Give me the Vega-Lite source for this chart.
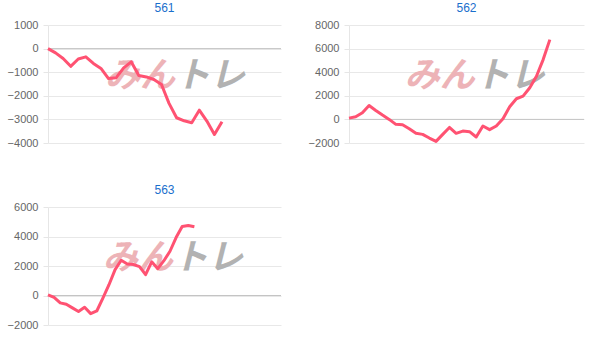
{
  "$schema": "https://vega.github.io/schema/vega-lite/v6.json",
  "padding": {"left": 7, "top": 2, "right": 5, "bottom": 5},
  "background": "white",
  "columns": 2,
  "spacing": {"column": 26, "row": 36},
  "config": {
    "view": {"stroke": null},
    "font": "Liberation Sans",
    "title": {"font": "Liberation Sans", "fontSize": 12, "fontWeight": "normal", "color": "#1a6fcc", "offset": 4},
    "axisY": {
      "title": null,
      "grid": true,
      "tickCount": 5,
      "format": "d",
      "labelFont": "Liberation Sans",
      "labelFontSize": 11,
      "labelColor": "#666666",
      "labelPadding": 5,
      "tickSize": 5,
      "tickColor": "#e6e6e6",
      "domainColor": "#e6e6e6",
      "gridColor": "#e8e8e8"
    },
    "text": {"font": "Noto Sans CJK JP"}
  },
  "concat": [
    {
      "width": 233, "height": 118,
      "title": "561",
      "layer": [
        {
          "data": {"values": [{"logo": "みん"}]},
          "mark": {"type": "text", "align": "right", "baseline": "middle", "fontSize": 35, "fontStyle": "italic", "fontWeight": "bold", "color": "#edb3b7"},
          "encoding": {
            "x": {"datum": 16.8, "type": "quantitative", "scale": {"domain": [0, 30.8], "nice": false, "zero": false}, "axis": null},
            "y": {"datum": -1140, "type": "quantitative", "scale": {"domain": [-4000, 1000], "nice": false}},
            "text": {"field": "logo"}
          }
        },
        {
          "data": {"values": [{"logo": "トレ"}]},
          "mark": {"type": "text", "align": "left", "baseline": "middle", "fontSize": 35, "fontStyle": "italic", "fontWeight": "bold", "color": "#b2b2b2"},
          "encoding": {
            "x": {"datum": 16.8, "type": "quantitative"},
            "y": {"datum": -1140, "type": "quantitative"},
            "text": {"field": "logo"}
          }
        },
        {
          "data": {"values": [{"v": 0}]},
          "mark": {"type": "rule", "color": "#c4c4c4", "strokeWidth": 1},
          "encoding": {"y": {"field": "v", "type": "quantitative"}}
        },
        {
          "data": {"values": [
            {"x": 0, "y": 0}, {"x": 1, "y": -180}, {"x": 2, "y": -420}, {"x": 3, "y": -750},
            {"x": 4, "y": -440}, {"x": 5, "y": -350}, {"x": 6, "y": -630}, {"x": 7, "y": -840},
            {"x": 8, "y": -1270}, {"x": 9, "y": -1240}, {"x": 10, "y": -820}, {"x": 11, "y": -560},
            {"x": 12, "y": -1140}, {"x": 13, "y": -1200}, {"x": 14, "y": -1310}, {"x": 15, "y": -1520},
            {"x": 16, "y": -2320}, {"x": 17, "y": -2930}, {"x": 18, "y": -3060}, {"x": 19, "y": -3140},
            {"x": 20, "y": -2610}, {"x": 21, "y": -3070}, {"x": 22, "y": -3640}, {"x": 23, "y": -3100}
          ]},
          "mark": {"type": "line", "color": "#ff5272", "strokeWidth": 3, "strokeJoin": "round"},
          "encoding": {
            "x": {"field": "x", "type": "quantitative"},
            "y": {"field": "y", "type": "quantitative"}
          }
        }
      ]
    },
    {
      "width": 235, "height": 118,
      "title": "562",
      "layer": [
        {
          "data": {"values": [{"logo": "みん"}]},
          "mark": {"type": "text", "align": "right", "baseline": "middle", "fontSize": 35, "fontStyle": "italic", "fontWeight": "bold", "color": "#edb3b7"},
          "encoding": {
            "x": {"datum": 18.8, "type": "quantitative", "scale": {"domain": [0, 35.1], "nice": false, "zero": false}, "axis": null},
            "y": {"datum": 3720, "type": "quantitative", "scale": {"domain": [-2000, 8000], "nice": false}},
            "text": {"field": "logo"}
          }
        },
        {
          "data": {"values": [{"logo": "トレ"}]},
          "mark": {"type": "text", "align": "left", "baseline": "middle", "fontSize": 35, "fontStyle": "italic", "fontWeight": "bold", "color": "#b2b2b2"},
          "encoding": {
            "x": {"datum": 18.8, "type": "quantitative"},
            "y": {"datum": 3720, "type": "quantitative"},
            "text": {"field": "logo"}
          }
        },
        {
          "data": {"values": [{"v": 0}]},
          "mark": {"type": "rule", "color": "#c4c4c4", "strokeWidth": 1},
          "encoding": {"y": {"field": "v", "type": "quantitative"}}
        },
        {
          "data": {"values": [
            {"x": 0, "y": 110}, {"x": 1, "y": 220}, {"x": 2, "y": 560}, {"x": 3, "y": 1180},
            {"x": 4, "y": 760}, {"x": 5, "y": 370}, {"x": 6, "y": 0}, {"x": 7, "y": -420},
            {"x": 8, "y": -450}, {"x": 9, "y": -790}, {"x": 10, "y": -1180}, {"x": 11, "y": -1270},
            {"x": 12, "y": -1580}, {"x": 13, "y": -1860}, {"x": 14, "y": -1270}, {"x": 15, "y": -680},
            {"x": 16, "y": -1180}, {"x": 17, "y": -990}, {"x": 18, "y": -1040}, {"x": 19, "y": -1490},
            {"x": 20, "y": -560}, {"x": 21, "y": -870}, {"x": 22, "y": -560}, {"x": 23, "y": 60},
            {"x": 24, "y": 1070}, {"x": 25, "y": 1750}, {"x": 26, "y": 1970}, {"x": 27, "y": 2680},
            {"x": 28, "y": 3660}, {"x": 29, "y": 5070}, {"x": 30, "y": 6760}
          ]},
          "mark": {"type": "line", "color": "#ff5272", "strokeWidth": 3, "strokeJoin": "round"},
          "encoding": {
            "x": {"field": "x", "type": "quantitative"},
            "y": {"field": "y", "type": "quantitative"}
          }
        }
      ]
    },
    {
      "width": 233, "height": 118,
      "title": "563",
      "layer": [
        {
          "data": {"values": [{"logo": "みん"}]},
          "mark": {"type": "text", "align": "right", "baseline": "middle", "fontSize": 35, "fontStyle": "italic", "fontWeight": "bold", "color": "#edb3b7"},
          "encoding": {
            "x": {"datum": 20.5, "type": "quantitative", "scale": {"domain": [0, 38.2], "nice": false, "zero": false}, "axis": null},
            "y": {"datum": 2560, "type": "quantitative", "scale": {"domain": [-2000, 6000], "nice": false}},
            "text": {"field": "logo"}
          }
        },
        {
          "data": {"values": [{"logo": "トレ"}]},
          "mark": {"type": "text", "align": "left", "baseline": "middle", "fontSize": 35, "fontStyle": "italic", "fontWeight": "bold", "color": "#b2b2b2"},
          "encoding": {
            "x": {"datum": 20.5, "type": "quantitative"},
            "y": {"datum": 2560, "type": "quantitative"},
            "text": {"field": "logo"}
          }
        },
        {
          "data": {"values": [{"v": 0}]},
          "mark": {"type": "rule", "color": "#c4c4c4", "strokeWidth": 1},
          "encoding": {"y": {"field": "v", "type": "quantitative"}}
        },
        {
          "data": {"values": [
            {"x": 0, "y": 50}, {"x": 1, "y": -130}, {"x": 2, "y": -500}, {"x": 3, "y": -590},
            {"x": 4, "y": -840}, {"x": 5, "y": -1090}, {"x": 6, "y": -800}, {"x": 7, "y": -1230},
            {"x": 8, "y": -1050}, {"x": 9, "y": -180}, {"x": 10, "y": 730}, {"x": 11, "y": 1750},
            {"x": 12, "y": 2390}, {"x": 13, "y": 2140}, {"x": 14, "y": 2100}, {"x": 15, "y": 1960},
            {"x": 16, "y": 1410}, {"x": 17, "y": 2280}, {"x": 18, "y": 1820}, {"x": 19, "y": 2360},
            {"x": 20, "y": 3000}, {"x": 21, "y": 3930}, {"x": 22, "y": 4680}, {"x": 23, "y": 4750},
            {"x": 24, "y": 4660}
          ]},
          "mark": {"type": "line", "color": "#ff5272", "strokeWidth": 3, "strokeJoin": "round"},
          "encoding": {
            "x": {"field": "x", "type": "quantitative"},
            "y": {"field": "y", "type": "quantitative"}
          }
        }
      ]
    }
  ]
}
